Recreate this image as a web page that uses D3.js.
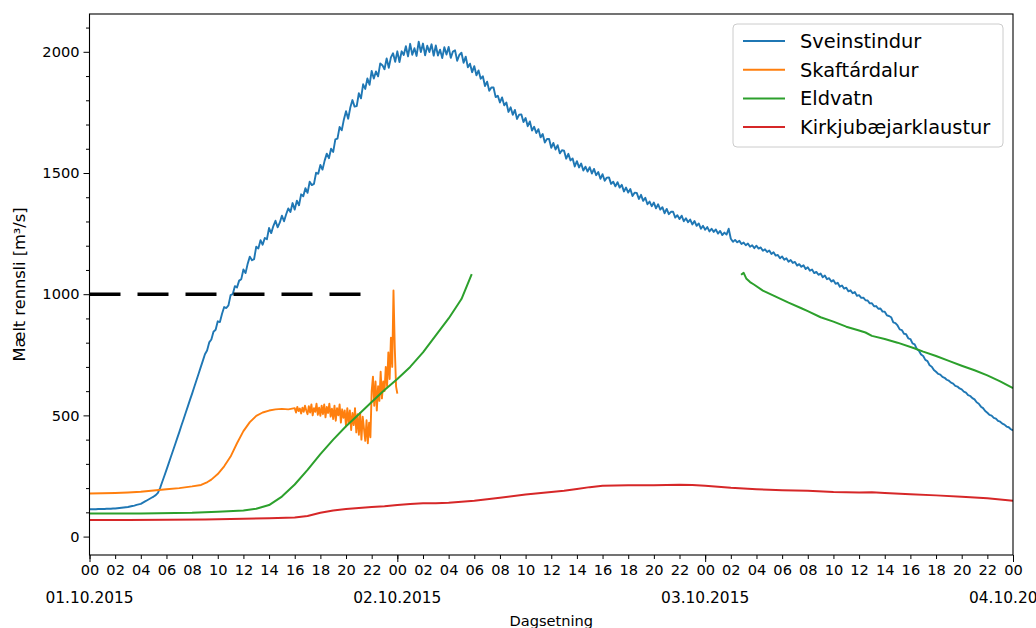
<!DOCTYPE html>
<html>
<head>
<meta charset="utf-8">
<script src="https://cdn.jsdelivr.net/npm/d3@7"></script>
<style>
  html, body { margin: 0; padding: 0; background: #fff; }
  svg { display: block; }
  text { font-family: "DejaVu Sans", sans-serif; fill: #000; }
</style>
</head>
<body>
<svg id="chart" width="1036" height="628"></svg>
<script>
// Measured discharge (m³/s), Skaftá flood, 1–4 October 2015.
// Sveinstindur: one reading every 10 minutes from 01.10.2015 00:00 (one row per hour).
const sveinStepMinutes = 10;
const sveinstindur = [
  113, 113, 113, 113, 114, 114,
  114, 114, 115, 115, 115, 116,
  116, 117, 118, 119, 120, 121,
  122, 124, 126, 128, 131, 133,
  135, 140, 145, 150, 155, 160,
  165, 171, 180, 200, 225, 250,
  275, 301, 327, 353, 379, 405,
  431, 458, 484, 511, 537, 564,
  590, 617, 644, 671, 698, 725,
  752, 768, 801, 813, 845, 853,
  888, 885, 919, 947, 943, 954,
  996, 1000, 1033, 1028, 1056, 1062,
  1102, 1087, 1126, 1155, 1140, 1145,
  1196, 1189, 1223, 1204, 1232, 1227,
  1273, 1252, 1281, 1303, 1276, 1295,
  1324, 1301, 1330, 1354, 1339, 1376,
  1349, 1386, 1367, 1412, 1404, 1437,
  1418, 1464, 1450, 1455, 1501, 1497,
  1533, 1514, 1551, 1580, 1561, 1600,
  1587, 1639, 1642, 1690, 1676, 1721,
  1755, 1724, 1770, 1801, 1774, 1776,
  1829, 1808, 1866, 1847, 1890, 1864,
  1921, 1890, 1919, 1899, 1952, 1945,
  1928, 1973, 1934, 1977, 1994, 1959,
  2002, 1958, 2002, 1987, 2023, 1981,
  2033, 1988, 2015, 1983, 2042, 1999,
  2034, 1986, 2025, 1999, 2031, 1984,
  2026, 1985, 2009, 1974, 2019, 1989,
  2020, 1975, 2001, 2006, 1963, 1987,
  1996, 1955, 1980, 1936, 1951, 1916,
  1941, 1903, 1923, 1889, 1899, 1859,
  1877, 1839, 1853, 1853, 1813, 1819,
  1791, 1812, 1779, 1791, 1752, 1771,
  1740, 1760, 1723, 1741, 1742, 1710,
  1727, 1693, 1713, 1675, 1691, 1665,
  1681, 1647, 1661, 1626, 1640, 1640,
  1604, 1624, 1597, 1615, 1581, 1594,
  1592, 1559, 1579, 1552, 1560, 1527,
  1549, 1523, 1539, 1510, 1526, 1506,
  1524, 1498, 1517, 1491, 1504, 1476,
  1495, 1468, 1481, 1482, 1455, 1464,
  1445, 1462, 1440, 1451, 1424, 1440,
  1419, 1434, 1405, 1419, 1418, 1393,
  1410, 1385, 1398, 1371, 1382, 1363,
  1378, 1354, 1371, 1349, 1359, 1334,
  1352, 1330, 1340, 1340, 1316, 1326,
  1310, 1324, 1301, 1313, 1297, 1308,
  1288, 1302, 1282, 1292, 1270, 1282,
  1266, 1277, 1259, 1270, 1257, 1267,
  1250, 1261, 1244, 1254, 1246, 1270,
  1229, 1216, 1224, 1214, 1220, 1207,
  1213, 1202, 1209, 1196, 1202, 1190,
  1200, 1188, 1193, 1179, 1185, 1174,
  1180, 1166, 1173, 1159, 1162, 1148,
  1156, 1142, 1148, 1134, 1141, 1129,
  1133, 1118, 1124, 1113, 1119, 1104,
  1111, 1097, 1102, 1087, 1092, 1080,
  1085, 1070, 1077, 1062, 1066, 1052,
  1058, 1043, 1047, 1031, 1036, 1023,
  1027, 1012, 1016, 1004, 1009, 993,
  996, 985, 986, 975, 974, 962,
  963, 950, 951, 940, 941, 928,
  928, 913, 910, 905, 884, 881,
  871, 855, 852, 837, 835, 818,
  815, 797, 793, 774, 767, 751,
  745, 729, 724, 707, 701, 687,
  680, 671, 668, 659, 655, 647,
  643, 635, 631, 622, 619, 611,
  607, 598, 594, 584, 580, 571,
  566, 554, 548, 536, 530, 518,
  511, 502, 499, 490, 487, 477,
  474, 466, 462, 454, 451, 443,
  438
];

// Skaftárdalur: sparse readings while smooth, then every 6 minutes from 16:00.
const skaftHours = [0, 1, 2, 3, 4, 5, 6, 7, 8, 8.7, 9.2, 9.5, 10, 10.5, 11, 11.5, 12, 12.5, 13, 13.5, 14, 14.5, 15, 15.5];
const skaftValues = [178, 179, 180, 182, 185, 190, 195, 200, 207, 213, 225, 235, 258, 290, 330, 385, 435, 472, 498, 512, 520, 525, 527, 525];
const skaftFineStartHour = 16;
const skaftFineStepMinutes = 6;
const skaftFineValues = [
  530, 512, 535, 518, 528, 508, 532, 515, 540, 520,
  505, 538, 512, 545, 500, 530, 515, 548, 502, 532,
  498, 540, 505, 545, 492, 535, 510, 548, 495, 528,
  485, 540, 478, 530, 500, 545, 470, 525, 490, 520,
  455, 530, 470, 520, 440, 510, 460, 530, 430, 505,
  420, 510, 400, 495, 445, 395, 480, 385, 470, 410,
  600, 660, 540, 640, 520, 620, 560, 680, 570, 640,
  600, 700, 620, 760, 650, 820, 700, 1015, 780, 620,
  590
];

// Eldvatn: two recorded stretches with a gap between them.
const eldvatnHoursA = [0, 4, 8, 10, 12, 13, 14, 15, 16, 17, 18, 19, 20, 21, 22, 23, 24, 25, 26, 27, 28, 29, 29.8];
const eldvatnValuesA = [95, 95, 98, 102, 108, 115, 130, 165, 215, 275, 340, 400, 455, 505, 555, 605, 650, 700, 760, 830, 900, 980, 1083];
const eldvatnHoursB = [50.8, 51.0, 51.2, 51.5, 51.8, 52.5, 53.5, 54.5, 55.5, 56, 57, 58, 59, 60, 60.5, 61, 62, 63, 64.3, 65, 66, 67, 68, 69, 70, 71, 72];
const eldvatnValuesB = [1080, 1088, 1065, 1050, 1040, 1015, 990, 965, 942, 930, 905, 887, 866, 850, 842, 828, 815, 800, 777, 763, 745, 725, 705, 686, 665, 640, 612];

// Kirkjubæjarklaustur
const kirkjuHours = [0, 3, 6, 9, 12, 14, 16, 17, 18, 19, 20, 21, 22, 23, 24, 25, 26, 27, 28, 30, 32, 34, 36, 37, 38, 39, 40, 42, 44, 46, 47, 48, 49, 50, 51, 52, 53, 54, 56, 58, 60, 61, 62, 64, 66, 68, 70, 72];
const kirkjuValues = [68, 68, 69, 70, 74, 76, 79, 85, 98, 108, 114, 118, 122, 125, 130, 134, 137, 138, 140, 148, 160, 174, 184, 189, 196, 204, 210, 212, 212, 214, 213, 210, 206, 201, 198, 195, 193, 191, 189, 184, 182, 183, 180, 175, 170, 164, 158, 148];

// Reference level drawn as a dashed line.
const thresholdValue = 1000;
const thresholdEndHour = 21.2;

const seriesNames = ["Sveinstindur", "Skaftárdalur", "Eldvatn", "Kirkjubæjarklaustur"];
const seriesColors = ["#1f77b4", "#ff7f0e", "#2ca02c", "#d62728"];

const yMajorTicks = [0, 500, 1000, 1500, 2000];
const yLabel = "Mælt rennsli [m³/s]";
const xLabel = "Dagsetning";

// ---- layout ----
const svg = d3.select("#chart");
const plot = { left: 89.5, right: 1013, top: 14, bottom: 555 };

const t0 = new Date(Date.UTC(2015, 9, 1, 0, 0));
const tEnd = new Date(Date.UTC(2015, 9, 4, 0, 0));
const atHour = h => new Date(t0.getTime() + h * 3600e3);

const x = d3.scaleUtc().domain([t0, tEnd]).range([plot.left, plot.right]);
const y = d3.scaleLinear().domain([-76, 2156]).range([plot.bottom, plot.top]);

// ---- series ----
const sveinData = sveinstindur.map((v, i) => ({ t: atHour(i * sveinStepMinutes / 60), v }));
const skaftData = skaftHours.map((h, i) => ({ t: atHour(h), v: skaftValues[i] }))
  .concat(skaftFineValues.map((v, i) => ({ t: atHour(skaftFineStartHour + i * skaftFineStepMinutes / 60), v })));
const eldA = eldvatnHoursA.map((h, i) => ({ t: atHour(h), v: eldvatnValuesA[i] }));
const eldB = eldvatnHoursB.map((h, i) => ({ t: atHour(h), v: eldvatnValuesB[i] }));
const kirkjuData = kirkjuHours.map((h, i) => ({ t: atHour(h), v: kirkjuValues[i] }));

const line = d3.line().x(d => x(d.t)).y(d => y(d.v));

svg.append("defs").append("clipPath").attr("id", "plotclip")
  .append("rect").attr("x", plot.left).attr("y", plot.top)
  .attr("width", plot.right - plot.left).attr("height", plot.bottom - plot.top);

const g = svg.append("g").attr("clip-path", "url(#plotclip)");

const drawSeries = (data, color, w) => g.append("path")
  .datum(data).attr("d", line)
  .attr("fill", "none").attr("stroke", color)
  .attr("stroke-width", w).attr("stroke-linejoin", "round").attr("stroke-linecap", "butt");

drawSeries(sveinData, seriesColors[0], 1.9);
drawSeries(skaftData, seriesColors[1], 1.9);
drawSeries(eldA, seriesColors[2], 2);
drawSeries(eldB, seriesColors[2], 2);
drawSeries(kirkjuData, seriesColors[3], 2);

g.append("path")
  .datum([{ t: atHour(0), v: thresholdValue }, { t: atHour(thresholdEndHour), v: thresholdValue }])
  .attr("d", line)
  .attr("fill", "none").attr("stroke", "#000")
  .attr("stroke-width", 3.6).attr("stroke-dasharray", "31,17");

// ---- axes ----
const fontTick = 14.6;

// y axis: labelled ticks every 500, minor every 100
const yAxis = d3.axisLeft(y).tickValues(yMajorTicks).tickSize(6).tickPadding(4).tickFormat(d3.format("d"));
svg.append("g").attr("transform", `translate(${plot.left},0)`).call(yAxis);
const yMinor = d3.range(0, 2101, 100).filter(v => !yMajorTicks.includes(v));
svg.append("g").attr("transform", `translate(${plot.left},0)`)
  .call(d3.axisLeft(y).tickValues(yMinor).tickSize(3.5).tickFormat(""))
  .call(a => a.select(".domain").remove());

// x axis: every two hours, longer ticks at midnight
const hourTicks = d3.utcHour.every(2).range(t0, new Date(tEnd.getTime() + 1));
const xAxis = d3.axisBottom(x).tickValues(hourTicks).tickSize(4).tickPadding(6).tickFormat(d3.utcFormat("%H"));
svg.append("g").attr("transform", `translate(0,${plot.bottom})`).call(xAxis);
const dayTicks = d3.utcDay.range(t0, new Date(tEnd.getTime() + 1));
svg.append("g").attr("transform", `translate(0,${plot.bottom})`)
  .call(d3.axisBottom(x).tickValues(dayTicks).tickSize(7).tickFormat(""))
  .call(a => a.select(".domain").remove());

// date labels below the midnight ticks
svg.append("g").selectAll("text").data(dayTicks).join("text")
  .attr("x", d => x(d)).attr("y", 602.5)
  .attr("text-anchor", "middle").attr("font-size", fontTick + 0.8)
  .text(d3.utcFormat("%d.%m.%Y"));

svg.selectAll(".tick text").attr("font-size", fontTick).attr("font-family", "DejaVu Sans").attr("fill", "#000");
svg.selectAll(".tick line").attr("stroke", "#000").attr("stroke-width", 1);
svg.selectAll(".domain").remove();

// frame
svg.append("rect")
  .attr("x", plot.left).attr("y", plot.top)
  .attr("width", plot.right - plot.left).attr("height", plot.bottom - plot.top)
  .attr("fill", "none").attr("stroke", "#000").attr("stroke-width", 1.1);

// axis titles
svg.append("text")
  .attr("x", (plot.left + plot.right) / 2).attr("y", 626)
  .attr("text-anchor", "middle").attr("font-size", 14.6).text(xLabel);

svg.append("text")
  .attr("transform", `translate(25,${(plot.top + plot.bottom) / 2}) rotate(-90)`)
  .attr("text-anchor", "middle").attr("font-size", 16.2).text(yLabel);

// ---- legend ----
const legend = svg.append("g").attr("transform", "translate(733,24)");
legend.append("rect")
  .attr("width", 270).attr("height", 123).attr("rx", 4)
  .attr("fill", "#fff").attr("fill-opacity", 0.85)
  .attr("stroke", "#cccccc").attr("stroke-width", 1);
const rows = legend.selectAll("g.row").data(seriesNames).join("g")
  .attr("class", "row")
  .attr("transform", (d, i) => `translate(0,${17 + i * 28.7})`);
rows.append("line")
  .attr("x1", 10).attr("x2", 52).attr("y1", 0).attr("y2", 0)
  .attr("stroke", (d, i) => seriesColors[i]).attr("stroke-width", 2);
rows.append("text")
  .attr("x", 67).attr("y", 7)
  .attr("font-size", 19.4).text(d => d);
</script>
</body>
</html>
